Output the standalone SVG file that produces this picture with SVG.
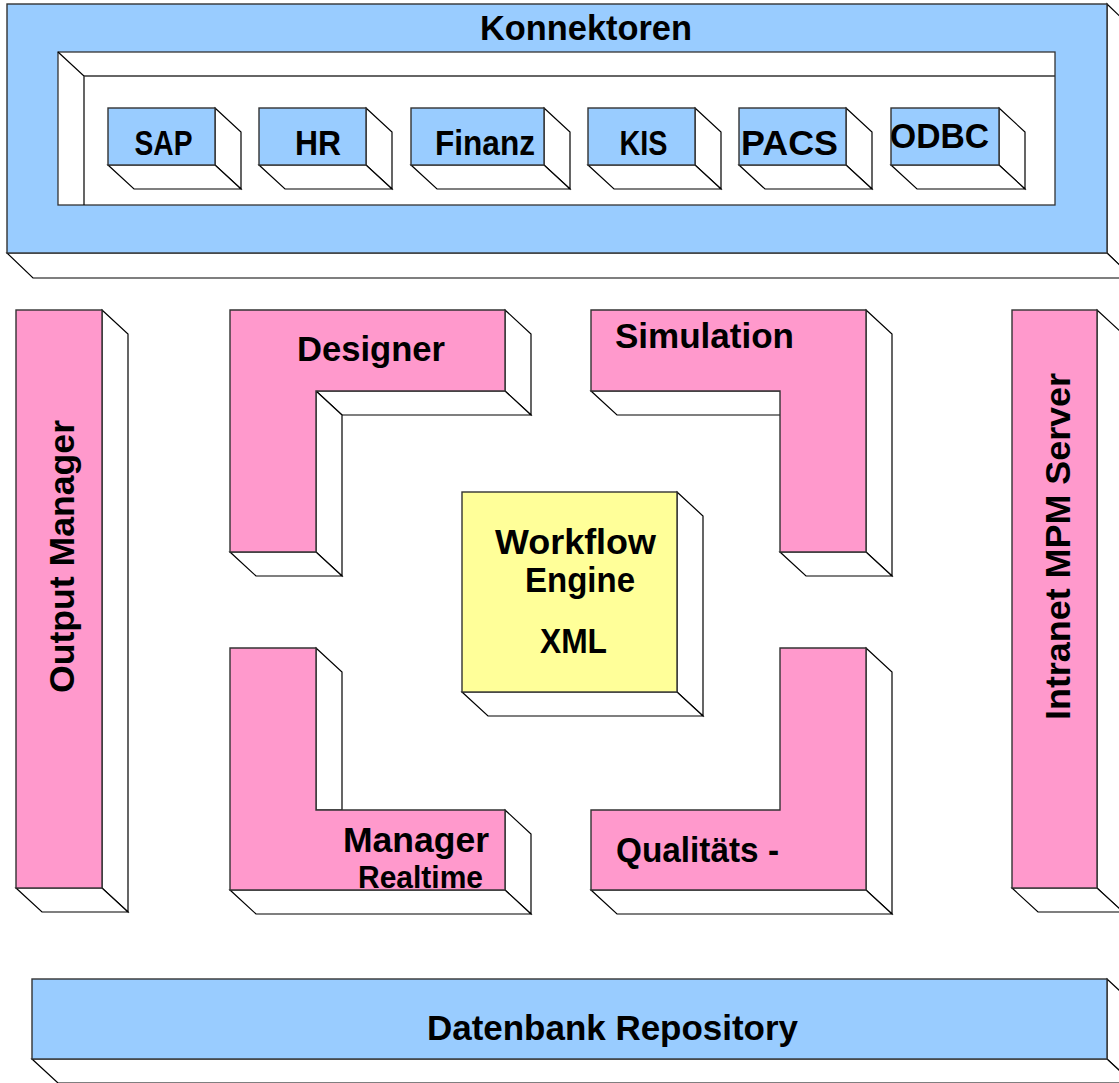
<svg xmlns="http://www.w3.org/2000/svg" width="1119" height="1083" viewBox="0 0 1119 1083">
  <style>
    .side { fill: #ffffff; stroke: #000000; stroke-width: 1.2; stroke-linejoin: miter; }
    .front { stroke: #333333; stroke-width: 1.4; }
    .blue { fill: #99ccff; }
    .pink { fill: #ff99cc; }
    .yellow { fill: #ffff99; }
    .frame { fill: #ffffff; stroke: #333333; stroke-width: 1.3; }
    .edge { fill: none; stroke: #000000; stroke-width: 1.2; }
    .label { font-family: "Liberation Sans", Arial, sans-serif; font-weight: bold; font-size: 35px; fill: #000000; text-anchor: middle; }
    .small { font-size: 31px; }
  </style>
  <rect width="1119" height="1083" fill="#ffffff"/>

  <!-- Connector layer: outer frame with the individual connector blocks -->
  <g id="konnektoren">
    <polygon class="side" points="1107,4 1133,29 1133,278 1107,253"/>
    <polygon class="side" points="7,253 1107,253 1133,278 33,278"/>
    <rect class="front blue" x="7" y="4" width="1100" height="249"/>
    <!-- recessed tray -->
    <rect class="frame" x="58" y="52" width="997" height="153"/>
    <polyline class="edge" points="58,52 84,76 84,205"/>
    <line class="frame" x1="84" y1="76" x2="1055" y2="76"/>
    <text class="label" x="586" y="40" textLength="212" lengthAdjust="spacingAndGlyphs">Konnektoren</text>
  </g>

  <g id="sap">
    <polygon class="side" points="215,108 241,132 241,189 215,165"/>
    <polygon class="side" points="108,165 215,165 241,189 134,189"/>
    <rect class="front blue" x="108" y="108" width="107" height="57"/>
    <text class="label" x="163.5" y="155" textLength="58" lengthAdjust="spacingAndGlyphs">SAP</text>
  </g>
  <g id="hr">
    <polygon class="side" points="366,108 392,132 392,189 366,165"/>
    <polygon class="side" points="259,165 366,165 392,189 285,189"/>
    <rect class="front blue" x="259" y="108" width="107" height="57"/>
    <text class="label" x="318" y="155" textLength="46" lengthAdjust="spacingAndGlyphs">HR</text>
  </g>
  <g id="finanz">
    <polygon class="side" points="544,108 570,132 570,189 544,165"/>
    <polygon class="side" points="411,165 544,165 570,189 437,189"/>
    <rect class="front blue" x="411" y="108" width="133" height="57"/>
    <text class="label" x="485" y="155" textLength="100" lengthAdjust="spacingAndGlyphs">Finanz</text>
  </g>
  <g id="kis">
    <polygon class="side" points="695,108 721,132 721,189 695,165"/>
    <polygon class="side" points="588,165 695,165 721,189 614,189"/>
    <rect class="front blue" x="588" y="108" width="107" height="57"/>
    <text class="label" x="643.5" y="155" textLength="48" lengthAdjust="spacingAndGlyphs">KIS</text>
  </g>
  <g id="pacs">
    <polygon class="side" points="846,108 872,132 872,189 846,165"/>
    <polygon class="side" points="739,165 846,165 872,189 765,189"/>
    <rect class="front blue" x="739" y="108" width="107" height="57"/>
    <text class="label" x="789.5" y="155" textLength="97" lengthAdjust="spacingAndGlyphs">PACS</text>
  </g>
  <g id="odbc">
    <polygon class="side" points="999,108 1025,132 1025,189 999,165"/>
    <polygon class="side" points="891,165 999,165 1025,189 917,189"/>
    <rect class="front blue" x="891" y="108" width="108" height="57"/>
    <text class="label" x="939.5" y="148" textLength="99" lengthAdjust="spacingAndGlyphs">ODBC</text>
  </g>

  <!-- Side pillars -->
  <g id="output-manager">
    <polygon class="side" points="102,310 128,334 128,912 102,888"/>
    <polygon class="side" points="16,888 102,888 128,912 42,912"/>
    <rect class="front pink" x="16" y="310" width="86" height="578"/>
    <text class="label" transform="translate(74,556.5) rotate(-90)" x="0" y="0" textLength="273" lengthAdjust="spacingAndGlyphs">Output Manager</text>
  </g>
  <g id="intranet-mpm-server">
    <polygon class="side" points="1097,310 1123,334 1123,912 1097,888"/>
    <polygon class="side" points="1012,888 1097,888 1123,912 1038,912"/>
    <rect class="front pink" x="1012" y="310" width="85" height="578"/>
    <text class="label" transform="translate(1070,546.5) rotate(-90)" x="0" y="0" textLength="347" lengthAdjust="spacingAndGlyphs">Intranet MPM Server</text>
  </g>

  <!-- Corner modules around the engine -->
  <g id="designer">
    <polygon class="side" points="505,310 531,334 531,415 505,391"/>
    <polygon class="side" points="316,391 505,391 531,415 342,415"/>
    <polygon class="side" points="316,391 342,415 342,576 316,552"/>
    <polygon class="side" points="230,552 316,552 342,576 256,576"/>
    <polygon class="front pink" points="230,310 505,310 505,391 316,391 316,552 230,552"/>
    <text class="label" x="371" y="361" textLength="148" lengthAdjust="spacingAndGlyphs">Designer</text>
  </g>
  <g id="simulation">
    <polygon class="side" points="866,310 892,334 892,576 866,552"/>
    <polygon class="side" points="780,552 866,552 892,576 806,576"/>
    <polygon class="side" points="591,391 780,391 806,415 617,415"/>
    <polygon class="front pink" points="591,310 866,310 866,552 780,552 780,391 591,391"/>
    <text class="label" x="704.5" y="348" textLength="179" lengthAdjust="spacingAndGlyphs">Simulation</text>
  </g>
  <g id="realtime-manager">
    <polygon class="side" points="316,648 342,672 342,810 316,810"/>
    <polygon class="side" points="505,810 531,834 531,914 505,890"/>
    <polygon class="side" points="230,890 505,890 531,914 256,914"/>
    <polygon class="front pink" points="230,648 316,648 316,810 505,810 505,890 230,890"/>
    <text class="label" x="416" y="852" textLength="146" lengthAdjust="spacingAndGlyphs">Manager</text>
    <text class="label small" x="420.5" y="888" textLength="125" lengthAdjust="spacingAndGlyphs">Realtime</text>
  </g>
  <g id="qualitaets">
    <polygon class="side" points="866,648 892,672 892,914 866,890"/>
    <polygon class="side" points="591,890 866,890 892,914 617,914"/>
    <polygon class="front pink" points="780,648 866,648 866,890 591,890 591,810 780,810"/>
    <text class="label" x="697.5" y="862" textLength="163" lengthAdjust="spacingAndGlyphs">Qualitäts -</text>
  </g>

  <!-- Central engine -->
  <g id="workflow-engine">
    <polygon class="side" points="677,492 703,516 703,716 677,692"/>
    <polygon class="side" points="462,692 677,692 703,716 488,716"/>
    <rect class="front yellow" x="462" y="492" width="215" height="200"/>
    <text class="label" x="575.5" y="554" textLength="161" lengthAdjust="spacingAndGlyphs">Workflow</text>
    <text class="label" x="580" y="592" font-size="34" textLength="110" lengthAdjust="spacingAndGlyphs">Engine</text>
    <text class="label" x="573.5" y="653" font-size="32" textLength="67" lengthAdjust="spacingAndGlyphs">XML</text>
  </g>

  <!-- Storage layer -->
  <g id="datenbank-repository">
    <polygon class="side" points="1107,979 1133,1003 1133,1083 1107,1059"/>
    <polygon class="side" points="32,1059 1107,1059 1133,1083 58,1083"/>
    <rect class="front blue" x="32" y="979" width="1075" height="80"/>
    <text class="label" x="612.5" y="1040" textLength="371" lengthAdjust="spacingAndGlyphs">Datenbank Repository</text>
  </g>

  <g id="connectors"/>
</svg>
